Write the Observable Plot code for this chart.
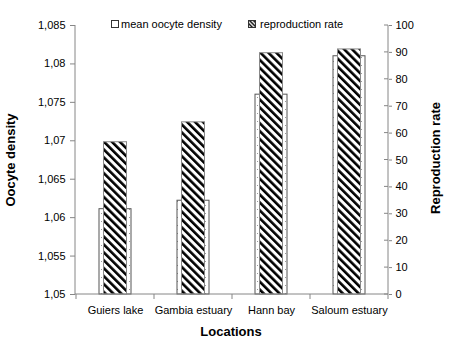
<!DOCTYPE html>
<html><head><meta charset="utf-8">
<script src="https://cdn.jsdelivr.net/npm/d3@7"></script>
<script src="https://cdn.jsdelivr.net/npm/@observablehq/plot@0.6"></script>
<style>
body{margin:0;background:#fff;font-family:"Liberation Sans",Arial,sans-serif;}
#wrap{position:relative;width:452px;height:352px;}
.lbl{position:absolute;font-weight:bold;font-size:13px;color:#000;white-space:nowrap;}
.leg{position:absolute;font-size:11px;color:#000;white-space:nowrap;display:flex;align-items:center;}
.sw{display:inline-block;width:6px;height:6px;border:1px solid #333;margin-right:2px;}
</style></head>
<body><div id="wrap"></div>
<script>
const locations = ["Guiers lake", "Gambia estuary", "Hann bay", "Saloum estuary"];
const oocyteDensity = [1.0611, 1.0622, 1.0760, 1.0810];
const reproductionRate = [56.6, 64.0, 89.7, 91.1];
const leftTicks = [1.05, 1.055, 1.06, 1.065, 1.07, 1.075, 1.08, 1.085];
const rightTicks = [0, 10, 20, 30, 40, 50, 60, 70, 80, 90, 100];

const yMin = 1.05, yMax = 1.085, rMax = 100;
const toY = r => yMin + r / rMax * (yMax - yMin);
const toR = y => Math.round((y - yMin) / (yMax - yMin) * rMax);

const rows = locations.map((loc, i) => ({loc, dens: oocyteDensity[i], rate: toY(reproductionRate[i])}));
const gray = "#868686";

const customTicks = (index, scales, values, dim) => {
  const g = d3.create("svg:g");
  const y0 = dim.height - dim.marginBottom;
  const step = scales.x(locations[1]) - scales.x(locations[0]);
  const edges = [...locations.map(c => scales.x(c)), scales.x(locations[locations.length-1]) + step];
  for (const e of edges) g.append("line").attr("x1", e).attr("x2", e).attr("y1", y0).attr("y2", y0 + 5).attr("stroke", gray);
  const xr = dim.width - dim.marginRight;
  for (const r of rightTicks) { const y = scales.y(toY(r)); g.append("line").attr("x1", xr - 4).attr("x2", xr).attr("y1", y).attr("y2", y).attr("stroke", gray); }
  g.append("line").attr("x1", dim.marginLeft).attr("x2", dim.marginLeft).attr("y1", dim.marginTop).attr("y2", y0).attr("stroke", gray);
  g.append("line").attr("x1", xr).attr("x2", xr).attr("y1", dim.marginTop).attr("y2", y0).attr("stroke", gray);
  g.append("line").attr("x1", dim.marginLeft).attr("x2", xr).attr("y1", y0).attr("y2", y0).attr("stroke", gray);
  return g.node();
};

const chart = Plot.plot({
  width: 452, height: 352,
  marginLeft: 75, marginRight: 64, marginTop: 25, marginBottom: 58,
  style: {fontFamily: "Liberation Sans, Arial, sans-serif", fontSize: "11px", color: "#000", background: "#fff"},
  x: {type: "band", domain: locations, padding: 0},
  y: {domain: [yMin, yMax]},
  marks: [
    Plot.barY(rows, {x: "loc", y1: yMin, y2: "dens", fill: "url(#dots)", stroke: "#555", strokeWidth: 1, insetLeft: 23, insetRight: 23}),
    Plot.barY(rows, {x: "loc", y1: yMin, y2: "rate", fill: "url(#hatch)", stroke: "#888", strokeWidth: 1, insetLeft: 27.5, insetRight: 27.5}),
    Plot.axisY({anchor: "left", ticks: leftTicks, tickSize: 5, tickPadding: 5, stroke: gray, label: null,
      tickFormat: d => String(+d.toFixed(3)).replace(".", ",")}),
    Plot.axisY({anchor: "right", ticks: rightTicks.map(toY), tickSize: 3, tickPadding: 4, stroke: gray, label: null,
      tickFormat: toR}),
    Plot.axisX({anchor: "bottom", tickSize: 0, tickPadding: 12, label: null}),
    customTicks
  ]
});

const defs = d3.create("svg:defs");
const h = defs.append("pattern").attr("id", "hatch").attr("patternUnits", "userSpaceOnUse")
  .attr("width", 5.6).attr("height", 5.6).attr("patternTransform", "rotate(-45)");
h.append("rect").attr("width", 5.6).attr("height", 5.6).attr("fill", "#fff");
h.append("rect").attr("width", 2.6).attr("height", 5.6).attr("fill", "#000");
const dp = defs.append("pattern").attr("id", "dots").attr("patternUnits", "userSpaceOnUse")
  .attr("width", 8).attr("height", 8);
dp.append("rect").attr("width", 8).attr("height", 8).attr("fill", "#fff");
dp.append("rect").attr("x", 1).attr("y", 1).attr("width", 1).attr("height", 1).attr("fill", "#999");
dp.append("rect").attr("x", 5).attr("y", 5).attr("width", 1).attr("height", 1).attr("fill", "#999");
chart.insertBefore(defs.node(), chart.firstChild);

const wrap = document.getElementById("wrap");
wrap.appendChild(chart);
chart.style.position = "absolute"; chart.style.left = "0"; chart.style.top = "0";

function addDiv(cls, html, css) { const d = document.createElement("div"); d.className = cls; d.innerHTML = html; Object.assign(d.style, css); wrap.appendChild(d); }
addDiv("lbl", "Oocyte density", {left: "10px", top: "160px", transform: "translate(-50%,-50%) rotate(-90deg)"});
addDiv("lbl", "Reproduction rate", {left: "435px", top: "158px", transform: "translate(-50%,-50%) rotate(-90deg)"});
addDiv("lbl", "Locations", {left: "231px", top: "331px", transform: "translate(-50%,-50%)"});
addDiv("leg", '<span class="sw" style="background:#fff"></span>mean oocyte density', {left: "111px", top: "18px"});
addDiv("leg", '<svg width="8" height="8" style="margin-right:4px"><defs><pattern id="lh" patternUnits="userSpaceOnUse" width="2.8" height="2.8" patternTransform="rotate(-45)"><rect width="2.8" height="2.8" fill="#fff"/><rect width="1.4" height="2.8" fill="#000"/></pattern></defs><rect x="0.5" y="0.5" width="7" height="7" fill="url(#lh)" stroke="#333"/></svg>reproduction rate', {left: "248px", top: "18px"});
</script></body></html>
